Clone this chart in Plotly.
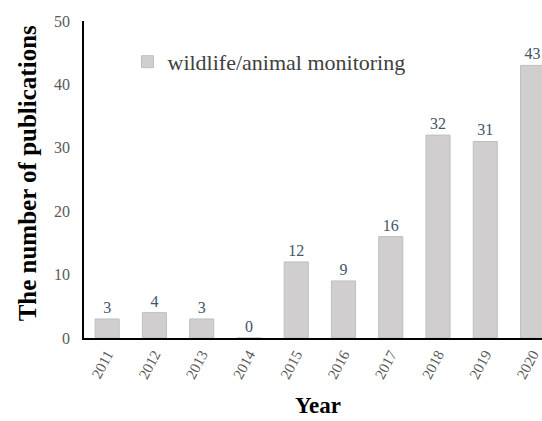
import plotly.graph_objects as go

years = ["2011", "2012", "2013", "2014", "2015", "2016", "2017", "2018", "2019", "2020"]
counts = [3, 4, 3, 0, 12, 9, 16, 32, 31, 43]
series_name = "wildlife/animal monitoring"
x_title = "Year"
y_title = "The number of publications"

FONT = "Liberation Serif, Times New Roman, serif"

fig = go.Figure()
fig.add_trace(go.Bar(
    x=years, y=counts, name=series_name,
    marker=dict(color="#D0CECE", line=dict(color="#BFBFBF", width=1)),
    width=0.51,
    text=[str(c) for c in counts], textposition="outside",
    textfont=dict(family=FONT, size=16, color="#44546A"),
    cliponaxis=False,
    showlegend=True,
))

fig.update_layout(
    width=542, height=421,
    margin=dict(l=84, r=0, t=21, b=83, autoexpand=False),
    plot_bgcolor="white", paper_bgcolor="white",
    font=dict(family=FONT, color="#595959"),
    legend=dict(x=0.095, y=0.871, xanchor="left", yanchor="middle",
                font=dict(family=FONT, size=22, color="#404040"),
                bgcolor="rgba(0,0,0,0)", itemwidth=30),
    xaxis=dict(
        type="category", range=[-0.49, 9.2],
        showline=True, linecolor="black", linewidth=1.5,
        ticks="", tickangle=-62,
        tickfont=dict(family=FONT, size=15, color="#595959"),
    ),
    yaxis=dict(
        range=[0, 50], dtick=10, showgrid=False, zeroline=False,
        showline=True, linecolor="black", linewidth=1.5,
        ticks="", ticklabelstandoff=9,
        tickfont=dict(family=FONT, size=16, color="#595959"),
    ),
    annotations=[
        dict(text="<b>" + x_title + "</b>", xref="paper", yref="paper",
             x=0.51, y=-0.258, xanchor="center", yanchor="bottom", showarrow=False,
             font=dict(family=FONT, size=23, color="black")),
        dict(text="<b>" + y_title + "</b>", xref="paper", yref="paper",
             x=-0.124, y=0.52, xanchor="center", yanchor="middle", showarrow=False,
             textangle=-90, font=dict(family=FONT, size=25, color="black")),
    ],
)

fig.write_html("out.html", post_script="document.body.style.margin='0';",
               config={"displayModeBar": False})
